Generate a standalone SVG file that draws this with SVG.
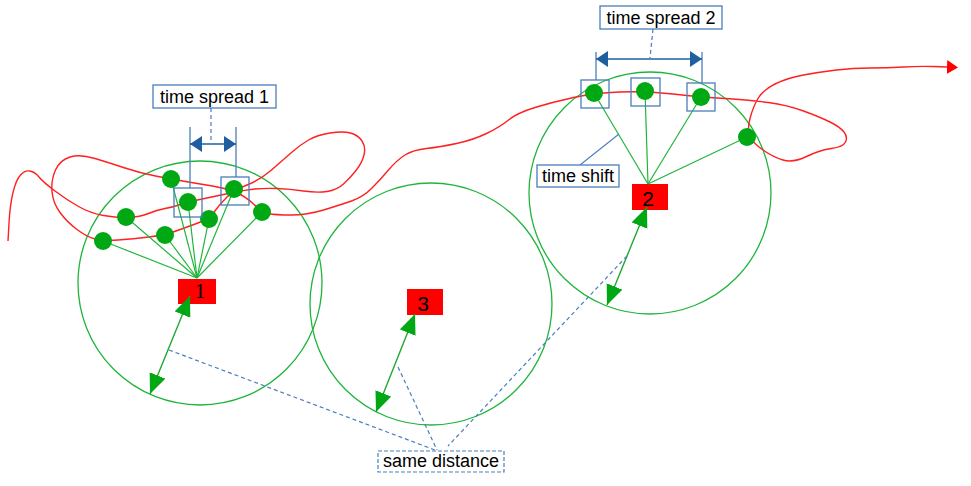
<svg xmlns="http://www.w3.org/2000/svg" width="971" height="486" viewBox="0 0 971 486">
<defs>
<style>
.zone{fill:none;stroke:#1fb53c;stroke-width:1.3}
.station{fill:#ff0000}
.num{font-family:"Liberation Serif","Times New Roman",serif;font-size:21px;fill:#000;text-anchor:middle}
.nums{font-family:"Liberation Sans",Arial,sans-serif;font-size:21px;fill:#000;text-anchor:middle}
.lbl{font-family:"Liberation Sans",Arial,sans-serif;font-size:18px;fill:#000;text-anchor:middle}
.lblbox{fill:#fff;stroke:#4a7ebb;stroke-width:1.3}
.dashbox{fill:#fff;stroke:#4a7ebb;stroke-width:1.2;stroke-dasharray:4 2}
.spoke{stroke:#1fb53c;stroke-width:1.2;fill:none}
.dot{fill:#00a814}
.win{fill:none;stroke:#4a7ebb;stroke-width:1.3}
.track{fill:none;stroke:#ff2020;stroke-width:1.4}
.garrow{stroke:#1fa830;stroke-width:1.4;fill:none;marker-start:url(#gh);marker-end:url(#gh)}
.barrow{stroke:#1f5f9f;stroke-width:1.4;fill:none;marker-start:url(#bh);marker-end:url(#bh)}
.tick{stroke:#4a7ebb;stroke-width:1.3}
.lead{stroke:#4a7ebb;stroke-width:1.2;fill:none;stroke-dasharray:4 3}
.leads{stroke:#4a7ebb;stroke-width:1.1;fill:none}
</style>
<marker id="gh" markerUnits="userSpaceOnUse" markerWidth="22" markerHeight="18" refX="20" refY="8.5" orient="auto-start-reverse"><path d="M0,0 L20,8.5 L0,17 z" fill="#00a814"/></marker>
<marker id="bh" markerUnits="userSpaceOnUse" markerWidth="14" markerHeight="18" refX="12" refY="8" orient="auto-start-reverse"><path d="M0,0 L12,8 L0,16 z" fill="#1f5f9f"/></marker>
<marker id="rh" markerUnits="userSpaceOnUse" markerWidth="13" markerHeight="16" refX="0" refY="7" orient="auto"><path d="M0,0 L11,7 L0,14 z" fill="#ff0000"/></marker>
</defs>
<rect width="971" height="486" fill="#fff"/>

<g id="zone-1"><circle class="zone" cx="200" cy="283" r="122"/></g>
<g id="zone-2"><circle class="zone" cx="650" cy="193" r="121"/></g>
<g id="zone-3"><circle class="zone" cx="431" cy="304" r="121"/></g>

<g id="station-1"><rect class="station" x="178" y="279" width="38" height="25"/><text class="num" x="200" y="298">1</text></g>
<g id="station-2"><rect class="station" x="632" y="184" width="36" height="26"/><text class="nums" x="648" y="206">2</text></g>
<g id="station-3"><rect class="station" x="407" y="289" width="36" height="26"/><text class="nums" x="423" y="311">3</text></g>

<g id="connectors">
<path class="track" marker-end="url(#rh)" d="M8,241 L9,223 Q10,205 13,192.5 Q16,180 20.5,175 Q25,170 30,171 Q35,172 39,177 Q43,182 55,191 Q67,200 78.5,206.5 Q90,213 103.5,215.5 Q117,218 128.5,217.5 Q140,217 148.5,213.5 Q157,210 165,208.5 Q173,207 180.5,204.5 Q188,202 197.5,200 Q207,198 214,196.5 Q221,195 233,192.5 Q245,190 255,189 Q265,188 277.5,188.5 Q290,189 303.5,191 Q317,193 327,191.5 Q337,190 343.5,184 Q350,178 356,170.5 Q362,163 364,155 Q366,147 362,141 Q358,135 350.5,133 Q343,131 330,133 Q317,135 308.5,140 Q300,145 291.5,152.5 Q283,160 271.5,170 Q260,180 247,185 Q234,190 227,197 Q220,204 214.5,211.5 Q209,219 198,223 Q187,227 176,231 Q165,235 149,237 Q133,239 118,240 Q103,241 95,239 Q87,237 77,229.5 Q67,222 60,212.5 Q53,203 52,191.5 Q51,180 55.5,170 Q60,160 70,157 Q80,154 95,158.5 Q110,163 125,168 Q140,173 155.5,176 Q171,179 185.5,181.5 Q200,184 212.5,186 Q225,188 235,192 Q245,196 253.5,204 Q262,212 268.5,213.5 Q275,215 291,215 Q307,215 323.5,210 Q340,205 351.5,201 Q363,197 371.5,188.5 Q380,180 388.5,170 Q397,160 405,155 Q413,150 426.5,148.5 Q440,147 456.5,143.5 Q473,140 486.5,133.5 Q500,127 508.5,120 Q517,113 535,107.5 Q553,102 573.5,97.5 Q594,93 619.5,92 Q645,91 673,94 Q701,97 725.5,98.5 Q750,100 768.5,102.5 Q787,105 803.5,111 Q820,117 830,122 Q840,127 844,132 Q848,137 845.5,142 Q843,147 831.5,148.5 Q820,150 806.5,156.5 Q793,163 783,160 Q773,157 763,150 Q753,143 750,136.5 Q747,130 750,118.5 Q753,107 758,98.5 Q763,90 775,84 Q787,78 803.5,75 Q820,72 836.5,70 Q853,68 870,68 Q887,68 903.5,67 Q920,66 933.5,66.5 L947,67"/>
<g id="spokes-1">
<line class="spoke" x1="171" y1="179" x2="197" y2="278"/>
<line class="spoke" x1="188" y1="202" x2="197" y2="278"/>
<line class="spoke" x1="234" y1="189" x2="197" y2="278"/>
<line class="spoke" x1="126" y1="217" x2="197" y2="278"/>
<line class="spoke" x1="209" y1="219" x2="197" y2="278"/>
<line class="spoke" x1="262" y1="212" x2="197" y2="278"/>
<line class="spoke" x1="165" y1="235" x2="197" y2="278"/>
<line class="spoke" x1="103" y1="241" x2="197" y2="278"/>
</g>
<g id="spokes-2">
<line class="spoke" x1="594" y1="93" x2="648" y2="184"/>
<line class="spoke" x1="645" y1="91" x2="648" y2="184"/>
<line class="spoke" x1="701" y1="97" x2="648" y2="184"/>
<line class="spoke" x1="747" y1="137" x2="648" y2="184"/>
</g>
<line class="garrow" x1="190" y1="296" x2="150" y2="394"/>
<line class="garrow" x1="647" y1="207" x2="607" y2="305"/>
<line class="garrow" x1="415" y1="314" x2="376" y2="412"/>
<line class="tick" x1="190" y1="127" x2="190" y2="188"/>
<line class="tick" x1="236" y1="127" x2="236" y2="177"/>
<line class="barrow" x1="190" y1="144" x2="236" y2="144"/>
<line class="lead" x1="211" y1="108" x2="211" y2="143"/>
<line class="tick" x1="596" y1="52" x2="596" y2="80"/>
<line class="tick" x1="702" y1="52" x2="702" y2="83"/>
<line class="barrow" x1="596" y1="59" x2="702" y2="59"/>
<line class="lead" x1="653" y1="29" x2="650" y2="58"/>
<line class="leads" x1="580" y1="165" x2="619" y2="134"/>
<line class="lead" x1="169" y1="350" x2="435" y2="450"/>
<line class="lead" x1="398" y1="367" x2="437" y2="450"/>
<line class="lead" x1="627" y1="256" x2="448" y2="446"/>
</g>

<g id="detections-1">
<circle class="dot" cx="171" cy="179" r="9"/>
<circle class="dot" cx="188" cy="202" r="9"/>
<circle class="dot" cx="234" cy="189" r="9"/>
<circle class="dot" cx="126" cy="217" r="9"/>
<circle class="dot" cx="209" cy="219" r="9"/>
<circle class="dot" cx="262" cy="212" r="9"/>
<circle class="dot" cx="165" cy="235" r="9"/>
<circle class="dot" cx="103" cy="241" r="9"/>
<rect class="win" x="174" y="188" width="28" height="29"/>
<rect class="win" x="221" y="177" width="28" height="28"/>
</g>
<g id="detections-2">
<circle class="dot" cx="594" cy="93" r="9"/>
<circle class="dot" cx="645" cy="91" r="9"/>
<circle class="dot" cx="701" cy="97" r="9"/>
<circle class="dot" cx="747" cy="137" r="9"/>
<rect class="win" x="581" y="80" width="28" height="28"/>
<rect class="win" x="631" y="78" width="29" height="28"/>
<rect class="win" x="687" y="83" width="28" height="28"/>
</g>

<g id="label-spread-1"><rect class="lblbox" x="153" y="85" width="123" height="23"/><text class="lbl" x="214.5" y="103">time spread 1</text></g>
<g id="label-spread-2"><rect class="lblbox" x="600" y="6" width="122" height="23"/><text class="lbl" x="661" y="24">time spread 2</text></g>
<g id="label-shift"><rect class="lblbox" x="537" y="165" width="82" height="22"/><text class="lbl" x="578" y="182">time shift</text></g>
<g id="label-distance"><rect class="dashbox" x="378" y="451" width="126" height="21"/><text class="lbl" x="441" y="467">same distance</text></g>
</svg>
